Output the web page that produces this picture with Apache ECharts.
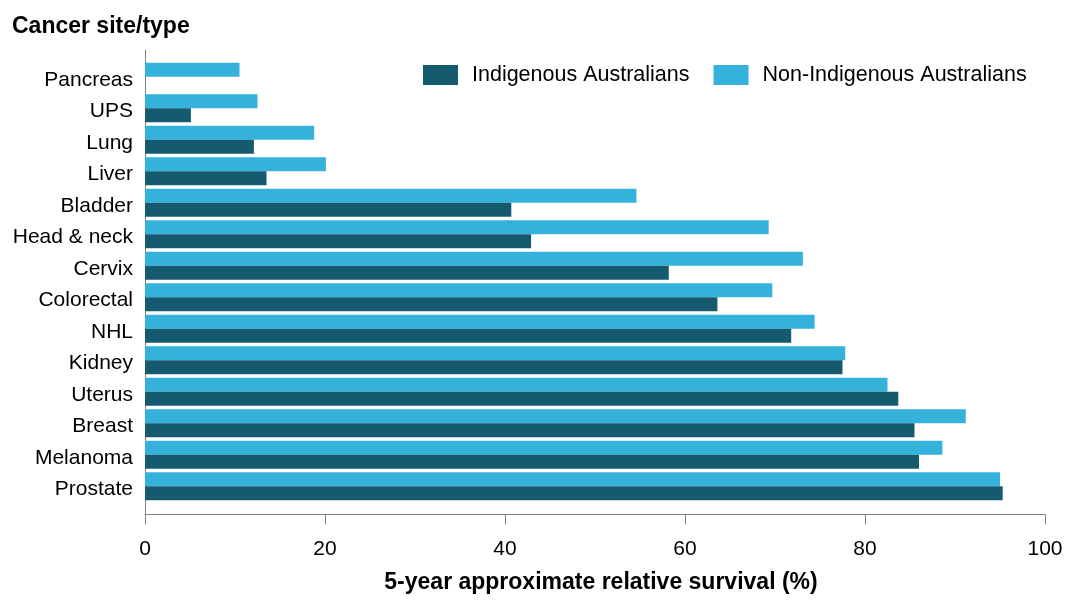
<!DOCTYPE html>
<html>
<head>
<meta charset="utf-8">
<script src="https://cdn.jsdelivr.net/npm/echarts@6/dist/echarts.min.js"></script>
<style>html,body{margin:0;padding:0;background:#fff;}#c{width:1069px;height:603px;}</style>
</head>
<body>
<div id="c"></div>
<script>
var categories = ['Pancreas','UPS','Lung','Liver','Bladder','Head & neck','Cervix','Colorectal','NHL','Kidney','Uterus','Breast','Melanoma','Prostate'];
var indigenous = [null, 5.1, 12.1, 13.5, 40.7, 42.9, 58.2, 63.6, 71.8, 77.5, 83.7, 85.5, 86.0, 95.3];
var nonIndigenous = [10.5, 12.5, 18.8, 20.1, 54.6, 69.3, 73.1, 69.7, 74.4, 77.8, 82.5, 91.2, 88.6, 95.0];
var xTicks = [0, 20, 40, 60, 80, 100];

var FONT = 'Arial, "Liberation Sans", sans-serif';
var chart = echarts.init(document.getElementById('c'), null, {renderer: 'canvas'});
chart.setOption({
  animation: false,
  backgroundColor: '#ffffff',
  textStyle: {fontFamily: FONT},
  title: {
    text: 'Cancer site/type', left: 7, top: 10,
    textStyle: {fontSize: 23, fontWeight: 'bold', color: '#000', fontFamily: FONT}
  },
  legend: {
    data: ['Indigenous Australians', 'Non-Indigenous Australians'],
    left: 418, top: 59, padding: 5,
    itemWidth: 35, itemHeight: 20, itemGap: 24,
    icon: 'rect',
    textStyle: {fontSize: 21.5, color: '#000', fontFamily: FONT, padding: [2, 0, 0, 9]}
  },
  grid: [
    {left: 145, right: 24, top: 61, height: 441},
    {left: 145, right: 24, top: 50, bottom: 88.5}
  ],
  xAxis: [
    {gridIndex: 0, type: 'value', min: 0, max: 100, show: false},
    {gridIndex: 1, type: 'value', min: xTicks[0], max: xTicks[xTicks.length - 1], interval: 20,
      axisLine: {show: true, lineStyle: {color: '#808080', width: 1}},
      axisTick: {show: true, length: 10, lineStyle: {color: '#808080'}},
      splitLine: {show: false},
      axisLabel: {fontSize: 21, color: '#000', margin: 24, fontFamily: FONT},
      name: '5-year approximate relative survival (%)',
      nameLocation: 'middle', nameGap: 57,
      nameTextStyle: {fontSize: 23, fontWeight: 'bold', color: '#000', fontFamily: FONT, padding: [0, 0, 0, 12]}
    }
  ],
  yAxis: [
    {gridIndex: 0, type: 'category', data: categories, inverse: true,
      axisLine: {show: false}, axisTick: {show: false}, splitLine: {show: false},
      axisLabel: {fontSize: 21, color: '#000', margin: 12, fontFamily: FONT, verticalAlign: 'top', lineHeight: 6}
    },
    {gridIndex: 1, type: 'value', min: 0, max: 1,
      axisLine: {show: true, lineStyle: {color: '#808080', width: 1}},
      axisTick: {show: false}, axisLabel: {show: false}, splitLine: {show: false}
    }
  ],
  series: [
    {name: 'Non-Indigenous Australians', type: 'bar', xAxisIndex: 0, yAxisIndex: 0,
      data: nonIndigenous, barWidth: 14, barGap: '0%',
      itemStyle: {color: '#34b2db'}},
    {name: 'Indigenous Australians', type: 'bar', xAxisIndex: 0, yAxisIndex: 0,
      data: indigenous, barWidth: 14, barGap: '0%',
      itemStyle: {color: '#165a70'}}
  ]
});
</script>
</body>
</html>
